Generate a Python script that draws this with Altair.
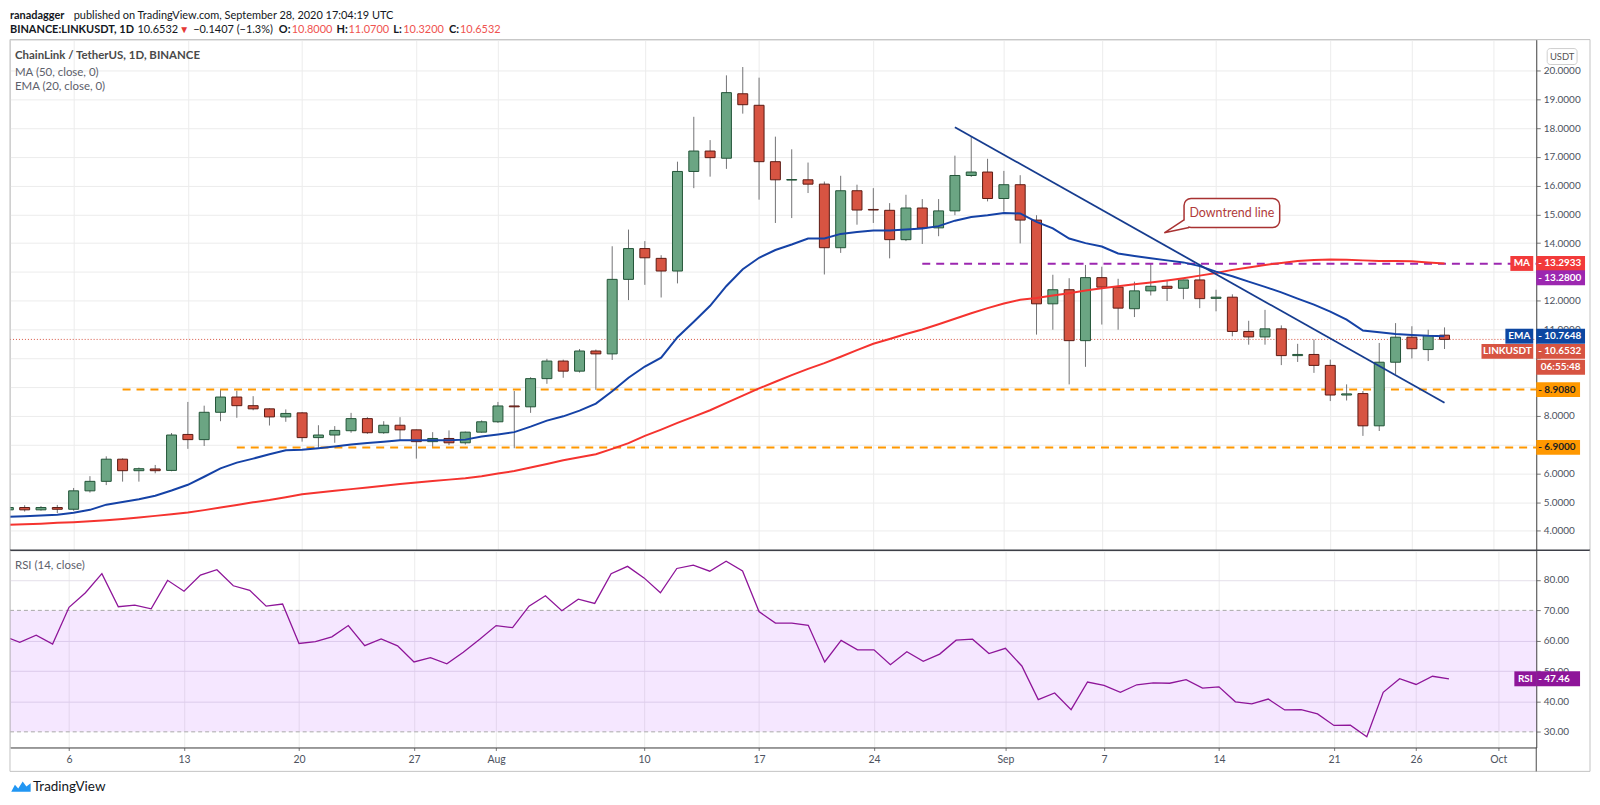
import altair as alt
import pandas as pd

# ---------------- data ----------------
dates = pd.date_range("2020-07-02", "2020-09-28", freq="D")

opens = [4.73, 4.81, 4.73, 4.81, 4.75, 5.39, 5.72, 6.49, 6.09, 6.15, 6.10, 7.35, 7.17, 8.12, 8.65,
         8.35, 8.24, 7.96, 8.10, 7.24, 7.33, 7.48, 7.90, 7.41, 7.67, 7.51, 7.10, 7.21, 7.06, 7.43,
         7.79, 8.34, 8.31, 9.29, 9.90, 9.55, 10.25, 10.15, 12.74, 13.81, 13.47, 13.03, 16.49, 17.20, 16.95,
         19.19, 18.79, 16.83, 16.19, 16.20, 16.05, 13.84, 15.82, 15.17, 15.14, 14.12, 15.22, 14.53, 15.12, 16.35, 16.47,
         15.55, 16.03, 14.80, 11.89, 12.38, 10.61, 12.80, 12.47, 11.72, 12.34, 12.50, 12.43, 12.72, 12.08,
         12.12, 10.93, 10.74, 11.02, 10.09, 10.13, 9.75, 8.72, 8.77, 7.65, 9.86, 10.73, 10.30, 10.80]
closes = [4.81, 4.73, 4.81, 4.75, 5.39, 5.72, 6.49, 6.09, 6.16, 6.09, 7.33, 7.17, 8.12, 8.65, 8.35,
          8.24, 7.96, 8.08, 7.24, 7.33, 7.49, 7.90, 7.41, 7.67, 7.51, 7.10, 7.21, 7.06, 7.43, 7.79,
          8.34, 8.31, 9.29, 9.90, 9.55, 10.25, 10.15, 12.74, 13.81, 13.49, 13.03, 16.49, 17.20, 16.97, 19.23,
          18.81, 16.83, 16.20, 16.21, 16.05, 13.84, 15.82, 15.15, 15.15, 14.12, 15.22, 14.53, 15.12, 16.35, 16.47, 15.55,
          16.03, 14.80, 11.89, 12.38, 10.61, 12.80, 12.47, 11.74, 12.34, 12.50, 12.43, 12.72, 12.07, 12.12,
          10.93, 10.74, 11.02, 10.09, 10.13, 9.75, 8.72, 8.76, 7.65, 9.86, 10.73, 10.33, 10.79, 10.6532]
highs = [4.86, 4.89, 4.86, 4.90, 5.49, 5.90, 6.59, 6.52, 6.20, 6.29, 7.40, 8.48, 8.35, 8.93, 8.87,
         8.68, 8.26, 8.22, 8.13, 7.67, 7.64, 8.10, 7.95, 7.81, 7.95, 7.52, 7.43, 7.49, 7.45, 7.84,
         8.48, 8.86, 9.34, 9.98, 9.95, 10.32, 10.30, 13.89, 14.47, 14.07, 13.58, 16.83, 18.39, 17.58, 19.83,
         20.12, 19.75, 17.70, 17.26, 16.80, 16.14, 16.34, 16.03, 15.91, 15.39, 15.68, 15.53, 15.53, 17.04, 17.70, 16.93,
         16.51, 16.36, 14.97, 12.90, 12.78, 13.24, 13.18, 12.76, 12.66, 13.28, 12.72, 12.73, 13.28, 12.38,
         12.22, 11.30, 11.68, 11.14, 10.50, 10.65, 9.95, 9.09, 8.86, 10.53, 11.22, 11.11, 10.99, 11.07]
lows = [4.68, 4.67, 4.70, 4.62, 4.70, 5.33, 5.59, 5.71, 5.71, 6.00, 6.07, 6.85, 6.95, 7.81, 7.93,
        8.19, 7.66, 7.79, 7.10, 6.89, 7.06, 7.41, 7.37, 7.37, 7.15, 6.51, 6.91, 6.98, 7.00, 7.41,
        7.75, 6.87, 8.10, 9.11, 9.32, 9.50, 8.90, 9.94, 12.02, 12.55, 12.11, 12.60, 15.91, 16.31, 16.58,
        18.50, 15.51, 14.70, 14.87, 15.74, 12.91, 13.66, 14.64, 14.70, 13.47, 14.07, 13.97, 14.24, 14.97, 16.30, 15.45,
        15.09, 13.99, 10.82, 10.99, 9.09, 9.70, 11.17, 10.99, 11.43, 12.18, 11.99, 12.05, 11.74, 11.63,
        10.76, 10.47, 10.47, 9.76, 9.87, 9.49, 8.51, 8.53, 7.30, 7.47, 9.44, 9.99, 9.90, 10.32]
ema20 = [4.49, 4.51, 4.53, 4.56, 4.63, 4.73, 4.91, 5.00, 5.10, 5.22, 5.40, 5.60, 5.88, 6.17, 6.37,
         6.51, 6.66, 6.80, 6.82, 6.87, 6.93, 7.00, 7.05, 7.10, 7.15, 7.15, 7.15, 7.15, 7.17, 7.28,
         7.35, 7.43, 7.62, 7.83, 7.98, 8.18, 8.42, 8.85, 9.32, 9.71, 10.02, 10.73, 11.27, 11.82, 12.51,
         13.09, 13.49, 13.76, 13.95, 14.16, 14.16, 14.32, 14.39, 14.44, 14.44, 14.47, 14.51, 14.59, 14.78, 14.91, 14.97,
         15.05, 15.03, 14.74, 14.51, 14.16, 14.00, 13.88, 13.64, 13.55, 13.47, 13.40, 13.33, 13.20, 13.01,
         12.85, 12.66, 12.48, 12.29, 12.07, 11.86, 11.62, 11.34, 10.96, 10.90, 10.84, 10.81, 10.78, 10.7648]
ma50 = [4.21, 4.23, 4.25, 4.28, 4.30, 4.33, 4.37, 4.41, 4.46, 4.52, 4.58, 4.64, 4.72, 4.81, 4.90,
        4.99, 5.07, 5.17, 5.27, 5.33, 5.39, 5.45, 5.51, 5.57, 5.63, 5.68, 5.73, 5.78, 5.83, 5.90,
        5.99, 6.08, 6.20, 6.32, 6.45, 6.56, 6.66, 6.85, 7.05, 7.30, 7.52, 7.75, 7.97, 8.19, 8.45,
        8.70, 8.95, 9.18, 9.41, 9.63, 9.83, 10.05, 10.28, 10.50, 10.67, 10.84, 11.00, 11.18, 11.37, 11.56, 11.74,
        11.90, 12.03, 12.09, 12.18, 12.26, 12.35, 12.43, 12.50, 12.57, 12.63, 12.70, 12.78, 12.87, 12.96,
        13.07, 13.15, 13.24, 13.31, 13.38, 13.41, 13.43, 13.42, 13.40, 13.38, 13.38, 13.37, 13.33, 13.2933]
rsi14 = [61.6, 59.5, 61.8, 58.9, 71.0, 75.8, 82.1, 71.2, 71.7, 70.5, 79.9, 76.3, 81.6, 83.4, 78.1,
         76.6, 71.4, 72.1, 59.1, 59.7, 61.3, 65.0, 58.4, 60.6, 58.3, 53.0, 54.4, 52.4, 56.2, 60.5,
         65.0, 64.3, 71.4, 74.8, 69.9, 73.7, 72.3, 82.1, 84.5, 80.7, 75.8, 83.8, 84.9, 82.9, 86.2,
         83.0, 69.6, 65.8, 65.8, 65.1, 53.0, 60.1, 57.0, 57.0, 52.1, 56.4, 53.2, 55.6, 60.2, 60.5, 55.8,
         57.5, 51.7, 40.6, 42.8, 37.3, 46.4, 45.3, 43.0, 45.5, 46.1, 46.0, 47.2, 44.4, 44.8,
         39.9, 39.2, 40.8, 37.2, 37.3, 35.9, 32.1, 32.2, 28.4, 43.0, 47.5, 45.6, 48.3, 47.46]

tick_dates = ["2020-07-06", "2020-07-13", "2020-07-20", "2020-07-27", "2020-08-01", "2020-08-10",
              "2020-08-17", "2020-08-24", "2020-09-01", "2020-09-07", "2020-09-14", "2020-09-21",
              "2020-09-26", "2020-10-01"]
tick_labels = ["6", "13", "20", "27", "Aug", "10", "17", "24", "Sep", "7", "14", "21", "26", "Oct"]
price_ticks = [4, 5, 6, 7, 8, 9, 10, 11, 12, 13, 14, 15, 16, 17, 18, 19, 20]
covered_ticks = [7, 9, 10, 13]   # axis labels hidden under the price tags in the picture
rsi_ticks = [30, 40, 50, 60, 70, 80]

support_levels = [8.908, 6.9]
support_start = ["2020-07-09", "2020-07-16"]
resist_level = 13.28
resist_start = "2020-08-27"
trend_dates = ["2020-08-29", "2020-09-28"]
trend_prices = [18.03, 8.45]
last_close, last_ema, last_ma, last_rsi = 10.6532, 10.7648, 13.2933, 47.46

# ---------------- layout / style ----------------
T0 = pd.Timestamp("2020-07-01")
def dn(s):
    return (pd.Timestamp(s) - T0).days

day = [(d - T0).days for d in dates]
tick_days = [dn(s) for s in tick_dates]
df = pd.DataFrame({"d": day, "open": opens, "high": highs, "low": lows, "close": closes,
                   "ema": ema20, "ma": ma50, "rsi": rsi14})

W, H1, H2 = 1533, 513, 198
FULLW = 1587
XDOM = [1.406, 94.315]
PDOM = [3.322, 21.073]
RDOM = [24.85, 89.77]
FONT = "Lato"
GRID = "#ececec"
UPC, DNC, UPB, DNB, WICK = "#6ba583", "#d75442", "#225437", "#5b1a13", "#737375"
EMA_C, MA_C, ORANGE, PURPLE, RSI_C = "#1542a6", "#f5332f", "#ff9800", "#9c27b0", "#8e1599"
TXT = "#131722"
RED_T = "#ef5350"
LBL = "#4c525e"

xs = alt.Scale(domain=XDOM, nice=False, zero=False)
ys = alt.Scale(domain=PDOM, nice=False, zero=False)
rs = alt.Scale(domain=RDOM, nice=False, zero=False)

price_lbl = "indexof([" + ",".join(str(v) for v in covered_ticks) + \
    "], datum.value) >= 0 ? '' : format(datum.value, '.4f')"

XTOP = alt.Axis(values=tick_days, grid=True, labels=False, ticks=False, domain=False,
                gridColor=GRID, title=None)
PAXIS = alt.Axis(orient="right", values=price_ticks, labelExpr=price_lbl, grid=True, gridColor=GRID,
                 tickSize=4, tickColor="#777", labelPadding=3, domainColor="#4a4a4a",
                 labelColor=LBL, labelFontSize=10, labelFont=FONT, title=None,
                 labelOverlap=False, labelFlush=False)
RAXIS = alt.Axis(orient="right", values=rsi_ticks, format=".2f", grid=True,
                 gridColor={"condition": {"test": "datum.value == 70 || datum.value == 30",
                                          "value": "transparent"}, "value": "#e4e0ea"},
                 tickSize=4, tickColor="#777", labelPadding=3, domainColor="#4a4a4a",
                 labelColor=LBL, labelFontSize=10, labelFont=FONT, title=None,
                 labelOverlap=False, labelFlush=False)
lbl_expr = "[" + ",".join(f"'{s}'" for s in tick_labels) + "][indexof([" + \
    ",".join(str(v) for v in tick_days) + "], datum.value)]"
XBOT = alt.Axis(values=tick_days, labelExpr=lbl_expr, grid=True, gridColor=GRID,
                tickSize=3, tickColor="#777", labelPadding=4, domainColor="#4a4a4a",
                labelColor=LBL, labelFontSize=10.5, labelFont=FONT, title=None,
                labelOverlap=False, labelFlush=False)

def X(f="d", axis=XTOP):
    return alt.X(f"{f}:Q", scale=xs, title=None, axis=axis)

def Y(f, sc=ys):
    return alt.Y(f"{f}:Q", scale=sc, title=None, axis=PAXIS if sc is ys else RAXIS)

one = pd.DataFrame({"k": [0]})

def ptext(s, px, py, color=TXT, size=11, weight="normal", align="left", font=FONT):
    return alt.Chart(one).mark_text(align=align, baseline="middle", font=font, fontSize=size,
                                    fontWeight=weight, color=color).encode(
        x=alt.value(px), y=alt.value(py), text=alt.value(s))

def prule(x0, x1, y0, y1, color, width=1):
    return alt.Chart(one).mark_rule(color=color, strokeWidth=width).encode(
        x=alt.value(x0), x2=alt.value(x1), y=alt.value(y0), y2=alt.value(y1))

def vbox(val, x0, x1, fill, text, tcolor="white", shift=0, center=False, sc=ys):
    d = pd.DataFrame({"v": [val]})
    rect = alt.Chart(d).mark_rect(fill=fill, yOffset=shift - 7.5, y2Offset=shift + 7.5).encode(
        x=alt.value(x0), x2=alt.value(x1), y=Y("v", sc), y2="v:Q")
    tx = (x0 + x1) / 2 if center else x0 + 2
    t = alt.Chart(d).mark_text(align="center" if center else "left", baseline="middle", dy=shift,
                               font=FONT, fontSize=10, fontWeight="bold", color=tcolor).encode(
        x=alt.value(tx), y=Y("v", sc), text=alt.value(text))
    return [rect, t]

# ---------------- price panel ----------------
up = "datum.close >= datum.open"
wicks = alt.Chart(df).mark_rule(color=WICK, strokeWidth=1, clip=True).encode(
    x=X(), y=Y("low"), y2="high:Q")
bodies = alt.Chart(df).mark_bar(size=10, strokeWidth=1, clip=True).encode(
    x=X(), y=Y("open"), y2="close:Q",
    fill=alt.condition(up, alt.value(UPC), alt.value(DNC)),
    stroke=alt.condition(up, alt.value(UPB), alt.value(DNB)))

cur_line = alt.Chart(pd.DataFrame({"v": [last_close]})).mark_rule(
    color=DNC, strokeWidth=1, strokeDash=[1, 2]).encode(x=alt.value(0), x2=alt.value(W), y=Y("v"))

lvl_layers = []
for lv, st in zip(support_levels, support_start):
    lvl_layers.append(alt.Chart(pd.DataFrame({"d": [dn(st)], "v": [lv]})).mark_rule(
        color=ORANGE, strokeWidth=2, strokeDash=[8, 6]).encode(x=X(), x2=alt.value(W), y=Y("v")))
lvl_layers.append(alt.Chart(pd.DataFrame({"d": [dn(resist_start)], "v": [resist_level]})).mark_rule(
    color=PURPLE, strokeWidth=2, strokeDash=[8, 6]).encode(x=X(), x2=alt.value(W), y=Y("v")))

ma_line = alt.Chart(df).mark_line(color=MA_C, strokeWidth=2, clip=True).encode(x=X(), y=Y("ma"))
ema_line = alt.Chart(df).mark_line(color=EMA_C, strokeWidth=2, clip=True).encode(x=X(), y=Y("ema"))
trend = alt.Chart(pd.DataFrame({"d": [dn(s) for s in trend_dates], "p": trend_prices})).mark_line(
    color="#163c8f", strokeWidth=1.8).encode(x=X(), y=Y("p"))

# callout "Downtrend line"
cb = pd.DataFrame({"d0": [73.04], "d1": [78.9], "p0": [15.55], "p1": [14.54]})
call_box = alt.Chart(cb).mark_rect(fill="white", stroke="#a83232", strokeWidth=1.5, cornerRadius=7).encode(
    x=X("d0"), x2="d1:Q", y=Y("p0"), y2="p1:Q")
A, T, B = (73.04, 14.81), (71.83, 14.36), (73.35, 14.54)
mid_low = T[1] + (A[0] - T[0]) / (B[0] - T[0]) * (B[1] - T[1])
tri = pd.DataFrame({"d": [T[0], A[0], B[0]], "lo": [T[1], mid_low, B[1]], "hi": [T[1], A[1], B[1]]})
call_fill = alt.Chart(tri).mark_area(color="white").encode(x=X(), y=Y("lo"), y2="hi:Q")
ptr = pd.DataFrame({"d": [A[0], T[0], B[0]], "p": [A[1], T[1], B[1]], "o": [0, 1, 2]})
call_ptr = alt.Chart(ptr).mark_line(color="#a83232", strokeWidth=1.5).encode(
    x=X(), y=Y("p"), order="o:Q")
call_text = alt.Chart(pd.DataFrame({"d": [75.97], "p": [15.05]})).mark_text(
    font=FONT, fontSize=12.5, color="#b03a3a", baseline="middle").encode(
    x=X(), y=Y("p"), text=alt.value("Downtrend line"))

boxes = []
boxes += vbox(last_ma, 1507, 1530, "#f23a3a", "MA", center=True)
boxes += vbox(last_ma, 1533, 1582, "#f23a3a", "- 13.2933")
boxes += vbox(resist_level, 1533, 1582, PURPLE, "- 13.2800", shift=14)
boxes += vbox(last_ema, 1502, 1530, "#0d47a1", "EMA", center=True)
boxes += vbox(last_ema, 1533, 1582, "#0d47a1", "- 10.7648")
boxes += vbox(last_close, 1478, 1530, DNC, "LINKUSDT", shift=12, center=True)
boxes += vbox(last_close, 1533, 1582, DNC, "- 10.6532", shift=12)
boxes += vbox(last_close, 1533, 1582, DNC, "06:55:48", shift=28, center=True)
boxes += vbox(support_levels[0], 1533, 1577, ORANGE, "- 8.9080", tcolor="#222")
boxes += vbox(support_levels[1], 1533, 1577, ORANGE, "- 6.9000", tcolor="#222")

usdt_box = alt.Chart(one).mark_rect(fill="white", stroke="#cfcfcf", cornerRadius=3).encode(
    x=alt.value(1544), x2=alt.value(1574), y=alt.value(9), y2=alt.value(25))
usdt_txt = ptext("USDT", 1559, 17, color="#555", size=9.5, align="center")

legend = [
    ptext("ChainLink / TetherUS, 1D, BINANCE", 5, 16.5, color="#4a4a4a", size=11.5, weight="bold"),
    ptext("MA (50, close, 0)", 5, 33.5, color="#5d606b", size=11.5),
    ptext("EMA (20, close, 0)", 5, 48, color="#5d606b", size=11.5),
]

hy1, hy2 = -23.5, -10
header = [
    ptext("ranadagger", 0, hy1, weight="bold"),
    ptext("published on TradingView.com, September 28, 2020 17:04:19 UTC", 64, hy1),
    ptext("BINANCE:LINKUSDT, 1D", 0, hy2, weight="bold"),
    ptext("10.6532", 128, hy2),
    ptext("\u25BC", 170, hy2, color="#e53935", size=10),
    ptext("\u22120.1407 (\u22121.3%)", 184, hy2),
    ptext("O:", 270, hy2, weight="bold"),
    ptext("10.8000", 283, hy2, color=RED_T),
    ptext("H:", 328, hy2, weight="bold"),
    ptext("11.0700", 340, hy2, color=RED_T),
    ptext("L:", 385, hy2, weight="bold"),
    ptext("10.3200", 395, hy2, color=RED_T),
    ptext("C:", 441, hy2, weight="bold"),
    ptext("10.6532", 452, hy2, color=RED_T),
]

borders_top = [
    prule(0, FULLW, 0, 0, "#c3c3c3"),
    prule(0, 0, 0, H1, "#c3c3c3"),
    prule(FULLW, FULLW, 0, H1, "#c3c3c3"),
]

top = alt.layer(
    wicks, cur_line, *lvl_layers, bodies, ma_line, ema_line, trend,
    call_box, call_fill, call_ptr, call_text,
    *boxes, usdt_box, usdt_txt, *legend, *header, *borders_top
).properties(width=W, height=H1)

# ---------------- RSI panel ----------------
band = alt.Chart(pd.DataFrame({"a": [70], "b": [30]})).mark_rect(fill="#9915ff", opacity=0.1).encode(
    x=alt.value(0), x2=alt.value(W), y=Y("a", rs), y2="b:Q")
band_lines = alt.Chart(pd.DataFrame({"v": [70, 30]})).mark_rule(
    color="#a8a8a8", strokeWidth=1, strokeDash=[4, 3]).encode(
    x=alt.value(0), x2=alt.value(W), y=Y("v", rs))
rsi_line = alt.Chart(df).mark_line(color=RSI_C, strokeWidth=1.3, clip=True).encode(
    x=X("d", XBOT), y=Y("rsi", rs))

rsi_boxes = []
rsi_boxes += vbox(last_rsi, 1511, 1533, RSI_C, "RSI", center=True, sc=rs)
rsi_boxes += vbox(last_rsi, 1533, 1577, RSI_C, "- 47.46", sc=rs)

logo_path = "M-1,0.55 L-0.62,-0.15 L-0.28,0.22 L0.18,-0.5 L0.56,0.02 L1,-0.32 L1,0.55 Z"
logo_icon = alt.Chart(one).mark_point(shape=logo_path, size=380, filled=True, color="#2196f3",
                                      opacity=1).encode(x=alt.value(11), y=alt.value(237))

bottom_extra = [
    ptext("RSI (14, close)", 5, 16, color="#5d606b", size=11.5),
    prule(0, FULLW, 0, 0, "#3d3f47", 1.5),
    prule(0, 0, 0, 222, "#c3c3c3"),
    prule(FULLW, FULLW, 0, 222, "#c3c3c3"),
    prule(0, FULLW, 222, 222, "#c3c3c3"),
    prule(W, W, H2, 222, "#4a4a4a"),
    logo_icon,
    ptext("TradingView", 23, 238, color=TXT, size=13.5),
]

bottom = alt.layer(band, band_lines, rsi_line, *rsi_boxes, *bottom_extra).properties(width=W, height=H2)

chart = alt.vconcat(top, bottom, spacing=0, bounds="flush").properties(
    padding={"left": 0, "top": 0, "right": 0, "bottom": 0}
).configure_view(stroke=None).configure_axis(
    labelOverlap=False, labelFlush=False
).configure(background="white", font=FONT)

chart.save("out.html", embed_options={"renderer": "svg", "actions": False})
